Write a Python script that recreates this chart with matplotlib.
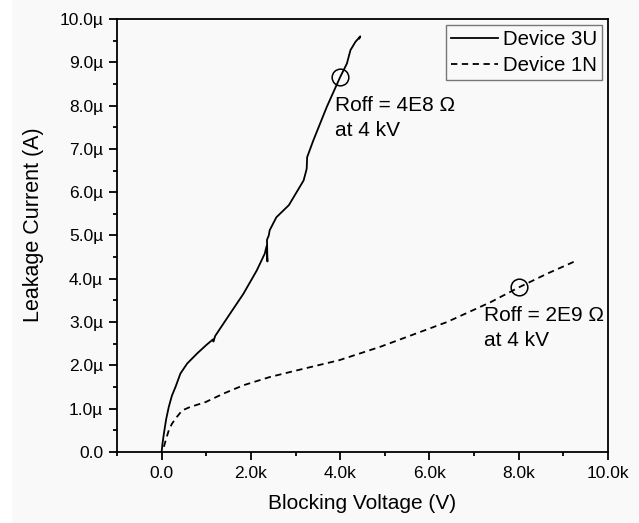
import matplotlib
matplotlib.use("Agg")
import matplotlib.pyplot as plt
from matplotlib.patches import Rectangle
from matplotlib.ticker import MultipleLocator, FuncFormatter

plt.rcParams['font.family'] = ['Liberation Sans', 'DejaVu Sans']

# Device 3U (solid), voltage in kV, current in uA
v_3u = [0, 0.02, 0.05, 0.1, 0.16, 0.23, 0.31, 0.42, 0.57, 0.79, 1.0, 1.15, 1.16, 1.2, 1.53,
        1.83, 2.13, 2.31, 2.35, 2.37, 2.36, 2.40, 2.42, 2.57, 2.85, 3.18, 3.24, 3.25, 3.26,
        3.40, 3.70, 4.0, 4.15, 4.23, 4.34, 4.45, 4.43]
i_3u = [0, 0.2, 0.42, 0.75, 1.04, 1.3, 1.5, 1.81, 2.04, 2.27, 2.47, 2.6, 2.55, 2.68, 3.19,
        3.65, 4.19, 4.58, 4.75, 4.4, 4.9, 5.0, 5.12, 5.42, 5.7, 6.27, 6.5, 6.55, 6.81,
        7.2, 7.97, 8.66, 8.97, 9.28, 9.47, 9.6, 9.55]

# Device 1N (dashed)
v_1n = [0.05, 0.1, 0.16, 0.23, 0.31, 0.46, 0.64, 0.98, 1.39, 1.83, 2.42, 3.01, 3.98, 4.9,
        6.39, 7.37, 8.0, 8.64, 9.23]
i_1n = [0.12, 0.3, 0.5, 0.65, 0.77, 0.96, 1.04, 1.15, 1.35, 1.54, 1.73, 1.88, 2.12, 2.43,
        3.0, 3.46, 3.80, 4.12, 4.39]

# Marked points and notes
mark_v = [4.0, 8.0]
mark_i = [8.66, 3.80]
notes = ["Roff = 4E8 \u03A9\nat 4 kV", "Roff = 2E9 \u03A9\nat 4 kV"]
note_v = [3.89, 7.23]
note_i = [8.22, 3.36]

bg = '#f9f9f9'
fig = plt.figure(figsize=(6.39, 5.23), dpi=100, facecolor=bg)
fig.patches.append(Rectangle((0, 0), 12 / 639, 1, transform=fig.transFigure,
                             facecolor='white', edgecolor='none', zorder=-10))
ax = fig.add_axes([0.1831, 0.1358, 0.9515 - 0.1831, 0.9637 - 0.1358])
ax.set_facecolor(bg)

ax.plot([v * 1000 for v in v_3u], [i * 1e-6 for i in i_3u], color='black', lw=1.3,
        label='Device 3U')
ax.plot([v * 1000 for v in v_1n], [i * 1e-6 for i in i_1n], color='black', lw=1.3,
        dashes=(3.5, 2.5), label='Device 1N')
ax.plot([v * 1000 for v in mark_v], [i * 1e-6 for i in mark_i], linestyle='none',
        marker='o', markersize=12, markerfacecolor='none', markeredgecolor='black',
        markeredgewidth=1.1)
for t, v, i in zip(notes, note_v, note_i):
    ax.text(v * 1000, i * 1e-6, t, fontsize=15, va='top', ha='left', linespacing=1.4)

ax.set_xlim(-1000, 10000)
ax.set_ylim(0, 10e-6)
ax.xaxis.set_major_locator(MultipleLocator(2000))
ax.xaxis.set_minor_locator(MultipleLocator(1000))
ax.yaxis.set_major_locator(MultipleLocator(1e-6))
ax.yaxis.set_minor_locator(MultipleLocator(0.5e-6))

def xfmt(x, pos):
    if abs(x) < 1e-9:
        return '0.0'
    return f'{x/1000:.1f}k'

def yfmt(y, pos):
    if abs(y) < 1e-15:
        return '0.0'
    return f'{y*1e6:.1f}\u00b5'

ax.xaxis.set_major_formatter(FuncFormatter(xfmt))
ax.yaxis.set_major_formatter(FuncFormatter(yfmt))
ax.tick_params(which='major', direction='out', length=5.5, width=1.3, labelsize=12.5,
               pad=4.5)
ax.tick_params(which='minor', direction='out', length=3, width=1.3)
for s in ax.spines.values():
    s.set_linewidth(1.3)

ax.set_xlabel('Blocking Voltage (V)', fontsize=15)
ax.set_ylabel('Leakage Current (A)', fontsize=15.5)
ax.xaxis.set_label_coords(0.5, -0.097)
ax.yaxis.set_label_coords(-0.149, 0.524)

leg = ax.legend(loc='upper right', fontsize=14.7, frameon=True, fancybox=False,
                edgecolor='#777777', framealpha=1, facecolor=bg, handlelength=2.3,
                handletextpad=0.2, borderpad=0.25, labelspacing=0.35,
                borderaxespad=0.3)
leg.get_frame().set_linewidth(1.0)

fig.savefig('out.png', dpi=100, facecolor=bg)
